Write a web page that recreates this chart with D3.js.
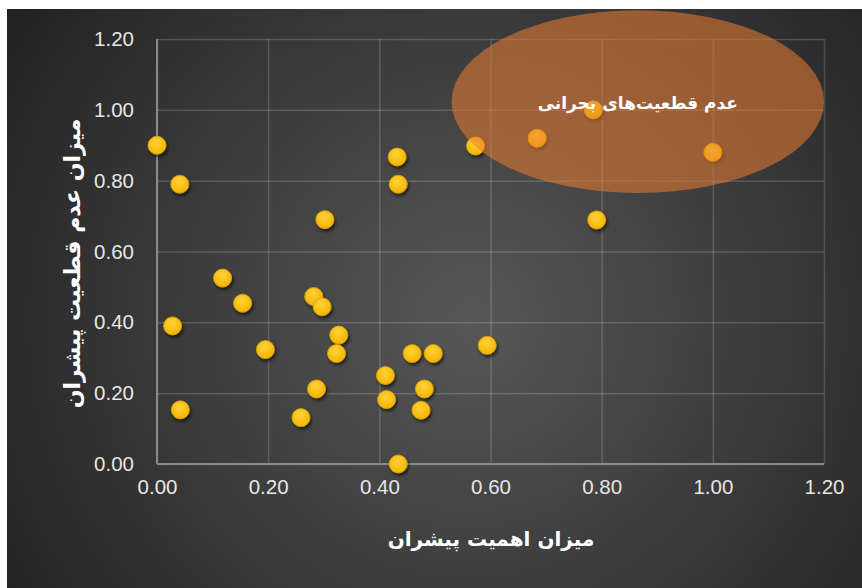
<!DOCTYPE html>
<html>
<head>
<meta charset="utf-8">
<script src="https://cdn.jsdelivr.net/npm/d3@7"></script>
<style>
  body { margin: 0; background: #ffffff; }
  .tick text { font-family: "Liberation Sans", "DejaVu Sans", sans-serif; font-size: 20.5px; fill: #e6e6e6; }
  .axisText { font-family: "DejaVu Sans", sans-serif; font-weight: bold; fill: #ffffff; }
</style>
</head>
<body>
<div class="chart"></div>
<script>
// Scatter: importance (x) vs uncertainty (y) of drivers
var importance = [0.00, 0.041, 0.302, 0.118, 0.154, 0.282, 0.297, 0.195, 0.327, 0.323,
                  0.459, 0.497, 0.594, 0.411, 0.481, 0.287, 0.413, 0.475, 0.259, 0.434,
                  0.028, 0.042, 0.432, 0.434, 0.791, 0.573, 0.684, 0.785, 1.00];
var uncertainty = [0.90, 0.79, 0.69, 0.525, 0.454, 0.473, 0.444, 0.323, 0.364, 0.312,
                   0.312, 0.312, 0.335, 0.25, 0.212, 0.212, 0.182, 0.152, 0.131, 0.00,
                   0.39, 0.153, 0.867, 0.79, 0.689, 0.898, 0.92, 1.00, 0.88];
var tickValues = [0, 0.2, 0.4, 0.6, 0.8, 1.0, 1.2];

// critical uncertainties zone (center / radii in data units)
var zone = { cx: 0.865, cy: 1.023, rx: 0.335, ry: 0.258 };
var zoneLabel = "عدم قطعیت‌های بحرانی";
var xTitle = "میزان اهمیت پیشران";
var yTitle = "میزان عدم قطعیت پیشران";

var svgWidth = 862;
var svgHeight = 588;

var margin = {
  top: 39,
  right: 38,
  bottom: 124,
  left: 157
};

var width = svgWidth - margin.left - margin.right;
var height = svgHeight - margin.top - margin.bottom;

var svg = d3.select(".chart")
  .append("svg")
  .attr("width", svgWidth)
  .attr("height", svgHeight)
  .style("display", "block");

var defs = svg.append("defs");

var bg = defs.append("radialGradient")
  .attr("id", "bg")
  .attr("gradientUnits", "userSpaceOnUse")
  .attr("cx", 470).attr("cy", 320).attr("r", 560);
bg.append("stop").attr("offset", "0%").attr("stop-color", "#575757");
bg.append("stop").attr("offset", "100%").attr("stop-color", "#212121");

var dot = defs.append("radialGradient")
  .attr("id", "dot")
  .attr("cx", "45%").attr("cy", "35%").attr("r", "65%");
dot.append("stop").attr("offset", "0%").attr("stop-color", "#ffd23a");
dot.append("stop").attr("offset", "100%").attr("stop-color", "#f4b400");

var shadow = defs.append("filter")
  .attr("id", "shadow")
  .attr("x", "-50%").attr("y", "-50%").attr("width", "200%").attr("height", "200%");
shadow.append("feDropShadow")
  .attr("dx", 1.5).attr("dy", 2.5).attr("stdDeviation", 1.8)
  .attr("flood-color", "#000").attr("flood-opacity", 0.6);

svg.append("rect")
  .attr("x", 7).attr("y", 9)
  .attr("width", svgWidth - 7).attr("height", svgHeight - 9)
  .attr("fill", "url(#bg)");

var chartGroup = svg.append("g")
  .attr("transform", `translate(${margin.left}, ${margin.top})`);

var xLinearScale = d3.scaleLinear()
  .domain([0, 1.2])
  .range([0, width]);

var yLinearScale = d3.scaleLinear()
  .domain([0, 1.2])
  .range([height, 0]);

var bottomAxis = d3.axisBottom(xLinearScale)
  .tickValues(tickValues)
  .tickFormat(d3.format(".2f"))
  .tickSize(-height)
  .tickPadding(22);

var leftAxis = d3.axisLeft(yLinearScale)
  .tickValues(tickValues)
  .tickFormat(d3.format(".2f"))
  .tickSize(-width)
  .tickPadding(23);

var xAxisG = chartGroup.append("g")
  .attr("transform", `translate(0, ${height})`)
  .call(bottomAxis);

var yAxisG = chartGroup.append("g")
  .call(leftAxis);

[xAxisG, yAxisG].forEach(function(g) {
  g.select(".domain").remove();
  g.selectAll(".tick line")
    .attr("stroke", "#ffffff")
    .attr("stroke-opacity", 0.17)
    .attr("stroke-width", 1.5);
});
xAxisG.selectAll(".tick text").attr("dy", "0.4em");

// the zero lines are lighter
chartGroup.append("line")
  .attr("x1", 0).attr("x2", width)
  .attr("y1", yLinearScale(0)).attr("y2", yLinearScale(0))
  .attr("stroke", "#8a8a8a").attr("stroke-width", 2);
chartGroup.append("line")
  .attr("x1", xLinearScale(0)).attr("x2", xLinearScale(0))
  .attr("y1", 0).attr("y2", height)
  .attr("stroke", "#8a8a8a").attr("stroke-width", 2);

var points = importance.map(function(v, i) {
  return { x: v, y: uncertainty[i] };
});

chartGroup.selectAll("circle.pt")
  .data(points)
  .enter()
  .append("circle")
  .attr("class", "pt")
  .attr("cx", d => xLinearScale(d.x))
  .attr("cy", d => yLinearScale(d.y))
  .attr("r", 9)
  .attr("fill", "url(#dot)")
  .attr("stroke", "#e0a300")
  .attr("stroke-width", 0.8)
  .attr("filter", "url(#shadow)");

chartGroup.append("ellipse")
  .attr("cx", xLinearScale(zone.cx))
  .attr("cy", yLinearScale(zone.cy))
  .attr("rx", xLinearScale(zone.rx) - xLinearScale(0))
  .attr("ry", yLinearScale(0) - yLinearScale(zone.ry))
  .attr("fill", "#ed7d31")
  .attr("fill-opacity", 0.55);

chartGroup.append("text")
  .attr("class", "axisText")
  .attr("x", xLinearScale(zone.cx))
  .attr("y", yLinearScale(zone.cy) + 7)
  .attr("text-anchor", "middle")
  .attr("direction", "rtl")
  .style("font-size", "17px")
  .text(zoneLabel);

// Create axes labels
svg.append("text")
  .attr("class", "axisText")
  .attr("transform", `translate(80, ${margin.top + height / 2 + 12}) rotate(-90)`)
  .attr("text-anchor", "middle")
  .attr("direction", "rtl")
  .style("font-size", "22px")
  .text(yTitle);

svg.append("text")
  .attr("class", "axisText")
  .attr("x", 491)
  .attr("y", 546)
  .attr("text-anchor", "middle")
  .attr("direction", "rtl")
  .style("font-size", "20px")
  .text(xTitle);
</script>
</body>
</html>
